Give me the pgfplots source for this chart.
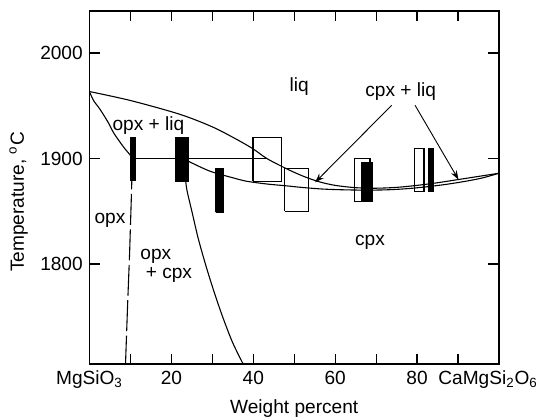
\documentclass[border=0pt]{standalone}
\usepackage{fontspec}
\setmainfont{Liberation Sans}
\usepackage{pgfplots}
\pgfplotsset{compat=1.18}
\usetikzlibrary{arrows.meta}

\begin{document}
\fontsize{10.5}{12.6}\selectfont%
\begin{tikzpicture}
\begin{axis}[
    scale only axis, width=225.2pt, height=194.2pt,
    xmin=0, xmax=100, ymin=1705, ymax=2040,
    xtick={0,10,...,90},
    xticklabels={MgSiO\textsubscript{3},,20,,40,,60,,80,},
    extra x ticks={100},
    extra x tick labels={CaMgSi\textsubscript{2}O\textsubscript{6}},
    extra x tick style={major tick length=0pt, tick label style={xshift=-6pt}},
    ytick={1800,1900,2000},
    yticklabels={1800,1900,2000},
    xtick pos=both, ytick pos=both,
    xticklabel pos=lower, yticklabel pos=left,
    tick align=inside,
    major tick length=5.8pt,
    tick style={black, line width=0.7pt},
    axis line style={line width=0.7pt},
    xlabel={Weight percent},
    ylabel={Temperature, \textsuperscript{o}C},
    xlabel style={at={(axis description cs:0.5,-0.139)}, anchor=base},
    ylabel style={at={(axis description cs:-0.16,0.459)}, anchor=base},
    every axis plot/.append style={mark=none, black, line width=0.6pt},
]
% liquidus
\addplot[smooth] coordinates {
    (0,1963.5)(10,1955)(22,1942)(30,1930)(36,1918)(40,1909)(43.3,1900)
    (48,1890.5)(52,1883.5)(56,1878)(60,1874.5)(65,1872.3)(70,1871.8)
    (75,1872.6)(80,1874.5)(85,1877)(90,1880)(95,1883)(100,1886)
};
% opx solidus
\addplot[smooth] coordinates {
    (0,1963.5)(1,1955)(2.6,1946.5)(4.6,1934)(5.8,1925)(7,1918)(8.5,1910)(9.9,1903.5)(10.5,1900)
};
% three-phase line
\addplot[sharp plot] coordinates {(10.5,1900)(43.3,1900)};
% cpx solidus
\addplot[smooth] coordinates {
    (22.5,1900)(24.1,1897.4)(29.4,1888)(35.1,1881.6)(38.4,1878.4)(43.3,1875.8)
    (47.7,1874.2)(52,1872.5)(57,1871)(62,1870.3)(67,1870)(72,1870.2)
    (77,1871.2)(82,1873)(87,1875.4)(92,1878.5)(96,1881.6)(100,1886)
};
% opx solvus
\addplot[dash pattern=on 17pt off 2.5pt] coordinates {
    (10.5,1900)(10.2,1860)(9.8,1810)(9.3,1760)(8.8,1705)
};
% cpx solvus
\addplot[smooth] coordinates {
    (22.8,1900)(23.3,1885)(23.8,1870)(25,1850)(26.5,1825)(28.3,1800)
    (30.3,1775)(32.5,1750)(35,1725)(37.8,1703)
};
% open boxes
\addplot[line width=0.7pt] coordinates {(39.9,1878.4)(46.9,1878.4)(46.9,1919.7)(39.9,1919.7)(39.9,1878.4)};
\addplot[line width=0.7pt] coordinates {(47.7,1849.8)(53.4,1849.8)(53.4,1890.2)(47.7,1890.2)(47.7,1849.8)};
\addplot[line width=0.7pt] coordinates {(64.7,1859.3)(68.5,1859.3)(68.5,1900)(64.7,1900)(64.7,1859.3)};
\addplot[line width=0.7pt] coordinates {(79.3,1868.9)(81.7,1868.9)(81.7,1909.5)(79.3,1909.5)(79.3,1868.9)};
% filled bars
\addplot[fill=black] coordinates {(10.1,1879)(11.3,1879)(11.3,1920)(10.1,1920)(10.1,1879)};
\addplot[fill=black] coordinates {(21.1,1878)(24.1,1878)(24.1,1920)(21.1,1920)(21.1,1878)};
\addplot[fill=black] coordinates {(30.8,1849)(32.6,1849)(32.6,1890)(30.8,1890)(30.8,1849)};
\addplot[fill=black] coordinates {(66.5,1859.3)(69.2,1859.3)(69.2,1896.5)(66.5,1896.5)(66.5,1859.3)};
\addplot[fill=black] coordinates {(82.7,1868.9)(84.0,1868.9)(84.0,1909.5)(82.7,1909.5)(82.7,1868.9)};

% labels
\node at (axis cs:51.2,1968) {liq};
\node at (axis cs:14.4,1931) {opx + liq};
\node at (axis cs:76,1963.8) {cpx + liq};
\node at (axis cs:5.0,1841) {opx};
\node at (axis cs:16.2,1807) {opx};
\node at (axis cs:19.4,1789.5) {+ cpx};
\node at (axis cs:68.5,1820.5) {cpx};
\draw[line width=0.5pt, -{Stealth[length=5pt,width=3.5pt]}] (axis cs:73.8,1950.5) -- (axis cs:55.1,1877.4);
\draw[line width=0.5pt, -{Stealth[length=5pt,width=3.5pt]}] (axis cs:79.5,1950.5) -- (axis cs:90.1,1880);
\end{axis}
\pgfresetboundingbox
\path[use as bounding box] (-49.2pt,-29.15pt) rectangle (247.2pt,200.2pt);
\end{tikzpicture}
\end{document}
